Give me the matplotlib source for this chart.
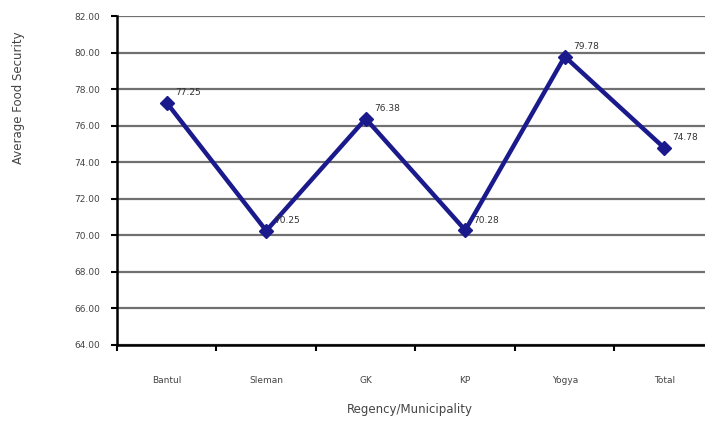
import matplotlib
matplotlib.use("Agg")
import matplotlib.pyplot as plt
import numpy as np

categories = ["Bantul", "Sleman", "GK", "KP", "Yogya", "Total"]
values = [77.25, 70.25, 76.38, 70.28, 79.78, 74.78]
value_labels = ["77.25", "70.25", "76.38", "70.28", "79.78", "74.78"]
yticks = [64, 66, 68, 70, 72, 74, 76, 78, 80, 82]

W, H = 705, 422
fig = plt.figure(figsize=(W / 100, H / 100), dpi=100)
left, right, top, bottom = 117, 714, 16, 345
ax = fig.add_axes([left / W, 1 - bottom / H, (right - left) / W, (bottom - top) / H])

x = np.arange(len(categories))
ax.plot(x, values, color="#1a1a8c", lw=3.2, marker="D", ms=7.5, zorder=3, clip_on=False)
for xi, v, lab in zip(x, values, value_labels):
    ax.annotate(lab, (xi, v), xytext=(6, 4), textcoords="offset points",
                fontsize=6.5, color="#333333", ha="left", va="bottom")

ax.set_xlim(-0.5, len(categories) - 0.5)
ax.set_ylim(64, 82)
ax.set_yticks(yticks)
ax.set_yticklabels([f"{t:.2f}" for t in yticks], fontsize=6.5, color="#444444")
ax.set_xticks(x)
ax.set_xticklabels(categories, fontsize=6.5, color="#444444")
ax.set_xticks(np.arange(len(categories) + 1) - 0.5, minor=True)
ax.tick_params(axis="x", which="major", length=0, pad=22)
ax.tick_params(axis="x", which="minor", length=4, width=1.5, direction="out", color="black")
ax.tick_params(axis="y", length=4, width=1.5, direction="out", color="black", pad=8)

ax.grid(axis="y", color="#707070", lw=1.6, zorder=1)
for s in ["top", "right"]:
    ax.spines[s].set_visible(False)
ax.spines["left"].set_linewidth(1.8)
ax.spines["bottom"].set_linewidth(1.8)

ax.set_ylabel("Average Food Security", fontsize=8.5, color="#444444")
ax.yaxis.set_label_coords(-(left - 25) / (right - left), (bottom - 98) / (bottom - top))
ax.set_xlabel("Regency/Municipality", fontsize=8.5, color="#444444")
ax.xaxis.set_label_coords((410 - left) / (right - left), -(403 - bottom) / (bottom - top))

fig.savefig("out.png", dpi=100)
